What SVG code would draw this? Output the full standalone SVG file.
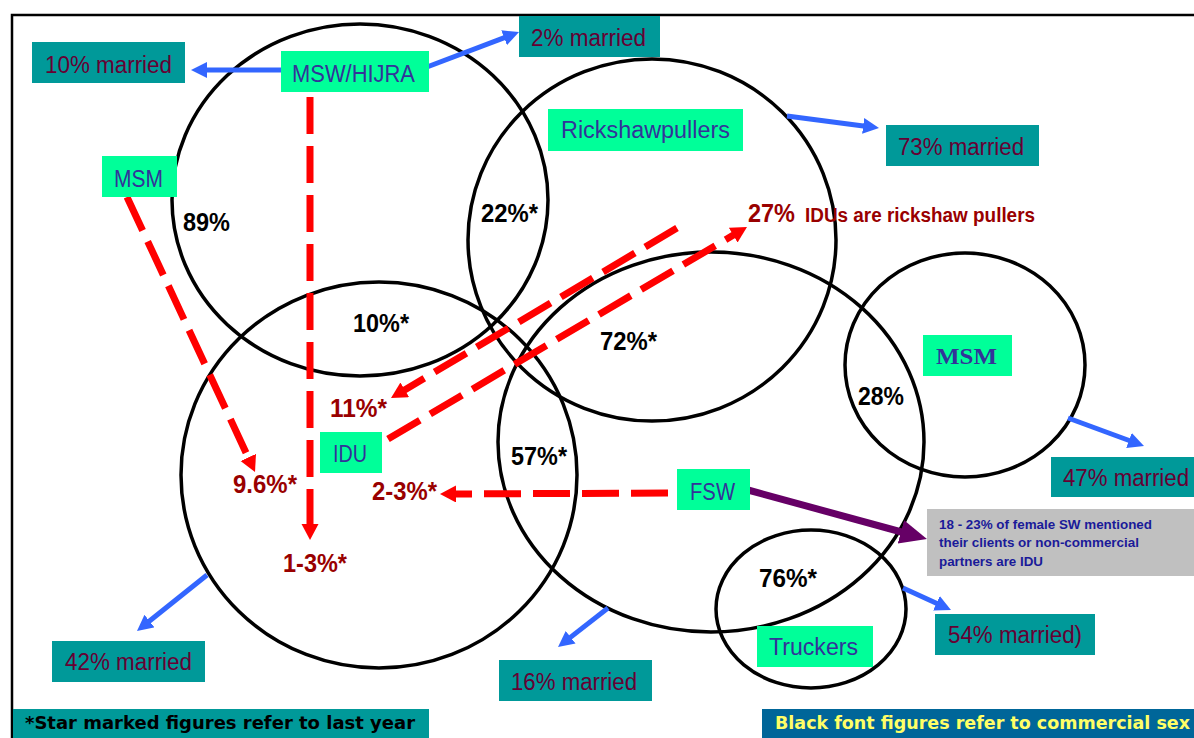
<svg xmlns="http://www.w3.org/2000/svg" width="1194" height="738" viewBox="0 0 1194 738">
<style>
.circ{fill:none;stroke:#000;stroke-width:3.5}
.teal{fill:#009999}
.green{fill:#00FF99}
.mar{font-family:"Liberation Sans",Arial,sans-serif;font-size:23px;fill:#660033}
.lab{font-family:"Liberation Sans",Arial,sans-serif;font-size:23px;fill:#333399}
.pct{font-family:"Liberation Sans",Arial,sans-serif;font-size:25px;font-weight:bold;fill:#000}
.red{font-family:"Liberation Sans",Arial,sans-serif;font-size:25px;font-weight:bold;fill:#990000}
.blue{fill:none;stroke:#3366FF;stroke-width:5}
.rdash{fill:none;stroke:#FF0000;stroke-width:7;stroke-dasharray:37 12}
.grey{font-family:"Liberation Sans",Arial,sans-serif;font-size:13px;font-weight:bold;fill:#1a1a99}
.note{font-family:"DejaVu Sans",sans-serif;font-size:17px;font-weight:bold}
</style>
<defs>
<marker id="ab" markerUnits="userSpaceOnUse" markerWidth="20" markerHeight="20" refX="6" refY="8" orient="auto"><path d="M0,0 L16,8 L0,16 z" fill="#3366FF"/></marker>
<marker id="ar" markerUnits="userSpaceOnUse" markerWidth="20" markerHeight="20" refX="6" refY="8.5" orient="auto"><path d="M0,0 L16,8.5 L0,17 z" fill="#FF0000"/></marker>
<marker id="ap" markerUnits="userSpaceOnUse" markerWidth="30" markerHeight="30" refX="12" refY="12" orient="auto"><path d="M0,0 L27,12 L0,24 z" fill="#660066"/></marker>
</defs>
<rect width="1194" height="738" fill="#fff"/>
<rect x="12" y="15" width="1195" height="735" fill="none" stroke="#000" stroke-width="2.5"/>

<g id="circles">
<ellipse class="circ" cx="360" cy="200" rx="188" ry="176"/>
<ellipse class="circ" cx="652" cy="240" rx="184" ry="181"/>
<ellipse class="circ" cx="379" cy="475" rx="198" ry="193"/>
<ellipse class="circ" cx="711" cy="442" rx="213" ry="190"/>
<ellipse class="circ" cx="965" cy="365" rx="120" ry="112"/>
<ellipse class="circ" cx="811" cy="609" rx="95" ry="79"/>
</g>

<g id="connectors">
<line class="blue" x1="290" y1="70" x2="201" y2="70" marker-end="url(#ab)"/>
<line class="blue" x1="419" y1="70" x2="509.7" y2="35.6" marker-end="url(#ab)"/>
<line class="blue" x1="787" y1="116" x2="869.1" y2="126.7" marker-end="url(#ab)"/>
<line class="blue" x1="1068" y1="418" x2="1134.6" y2="442.5" marker-end="url(#ab)"/>
<line class="blue" x1="903" y1="588" x2="941.9" y2="605.8" marker-end="url(#ab)"/>
<line class="blue" x1="608" y1="608" x2="565.9" y2="640.9" marker-end="url(#ab)"/>
<line class="blue" x1="207" y1="575" x2="144.8" y2="624.8" marker-end="url(#ab)"/>
<line class="rdash" x1="310" y1="97" x2="310" y2="530" marker-end="url(#ar)"/>
<line class="rdash" x1="127" y1="197" x2="250.8" y2="462.9" marker-end="url(#ar)"/>
<line class="rdash" x1="677" y1="228" x2="399.6" y2="392.9" marker-end="url(#ar)"/>
<line class="rdash" x1="388" y1="439" x2="738.4" y2="232.1" marker-end="url(#ar)"/>
<line class="rdash" x1="668" y1="493" x2="450" y2="494" marker-end="url(#ar)"/>
<line x1="748" y1="490" x2="912.5" y2="535" stroke="#660066" stroke-width="7" marker-end="url(#ap)"/>
</g>

<g id="node-msw-hijra"><rect class="green" x="281" y="51" width="148" height="41"/><text class="lab" x="292" y="82" textLength="123" lengthAdjust="spacingAndGlyphs">MSW/HIJRA</text></g>
<g id="node-10-married"><rect class="teal" x="32" y="42" width="153" height="41"/><text class="mar" x="45" y="73" textLength="127" lengthAdjust="spacingAndGlyphs">10% married</text></g>
<g id="node-2-married"><rect class="teal" x="519" y="16" width="141" height="41"/><text class="mar" x="531" y="46" textLength="115" lengthAdjust="spacingAndGlyphs">2% married</text></g>
<g id="node-rickshawpullers"><rect class="green" x="548" y="109" width="195" height="42"/><text class="lab" x="561" y="138" textLength="169" lengthAdjust="spacingAndGlyphs">Rickshawpullers</text></g>
<g id="node-73-married"><rect class="teal" x="886" y="125" width="153" height="41"/><text class="mar" x="898" y="155" textLength="126" lengthAdjust="spacingAndGlyphs">73% married</text></g>
<g id="node-msm-left"><rect class="green" x="102" y="156" width="75" height="41"/><text class="lab" x="114" y="187" textLength="49" lengthAdjust="spacingAndGlyphs">MSM</text></g>
<g id="node-idu"><rect class="green" x="320" y="432" width="62" height="41"/><text class="lab" x="333" y="462" textLength="34" lengthAdjust="spacingAndGlyphs">IDU</text></g>
<g id="node-fsw"><rect class="green" x="677" y="469" width="73" height="41"/><text class="lab" x="690" y="500" textLength="45" lengthAdjust="spacingAndGlyphs">FSW</text></g>
<g id="node-msm-right"><rect class="green" x="923" y="335" width="89" height="41"/><text x="936" y="364" textLength="61" lengthAdjust="spacingAndGlyphs" style="font-family:'Liberation Serif','Times New Roman',serif;font-size:23px;font-weight:bold;fill:#333399">MSM</text></g>
<g id="node-47-married"><rect class="teal" x="1051" y="457" width="150" height="40"/><text class="mar" x="1063" y="486" textLength="126" lengthAdjust="spacingAndGlyphs">47% married</text></g>
<g id="node-truckers"><rect class="green" x="757" y="626" width="116" height="41"/><text class="lab" x="769" y="655" textLength="89" lengthAdjust="spacingAndGlyphs">Truckers</text></g>
<g id="node-54-married"><rect class="teal" x="935" y="614" width="160" height="41"/><text class="mar" x="948" y="643" textLength="134" lengthAdjust="spacingAndGlyphs">54% married)</text></g>
<g id="node-16-married"><rect class="teal" x="499" y="660" width="153" height="41"/><text class="mar" x="511" y="690" textLength="126" lengthAdjust="spacingAndGlyphs">16% married</text></g>
<g id="node-42-married"><rect class="teal" x="52" y="641" width="153" height="41"/><text class="mar" x="65" y="670" textLength="127" lengthAdjust="spacingAndGlyphs">42% married</text></g>
<g id="node-fsw-note"><rect x="927" y="509" width="270" height="67" fill="#C0C0C0"/>
<text class="grey" x="939" y="529" textLength="213" lengthAdjust="spacingAndGlyphs">18 - 23% of female SW mentioned</text>
<text class="grey" x="939" y="547" textLength="200" lengthAdjust="spacingAndGlyphs">their clients or non-commercial</text>
<text class="grey" x="939" y="566" textLength="104" lengthAdjust="spacingAndGlyphs">partners are IDU</text></g>

<g id="figures">
<text class="pct" x="183" y="231" textLength="47" lengthAdjust="spacingAndGlyphs">89%</text>
<text class="pct" x="481" y="222" textLength="57" lengthAdjust="spacingAndGlyphs">22%*</text>
<text class="pct" x="353" y="332" textLength="56" lengthAdjust="spacingAndGlyphs">10%*</text>
<text class="pct" x="600" y="350" textLength="57" lengthAdjust="spacingAndGlyphs">72%*</text>
<text class="pct" x="511" y="465" textLength="56" lengthAdjust="spacingAndGlyphs">57%*</text>
<text class="pct" x="858" y="405" textLength="46" lengthAdjust="spacingAndGlyphs">28%</text>
<text class="pct" x="759" y="587" textLength="58" lengthAdjust="spacingAndGlyphs">76%*</text>
<text class="red" x="330" y="417" textLength="57" lengthAdjust="spacingAndGlyphs">11%*</text>
<text class="red" x="233" y="493" textLength="64" lengthAdjust="spacingAndGlyphs">9.6%*</text>
<text class="red" x="283" y="572" textLength="64" lengthAdjust="spacingAndGlyphs">1-3%*</text>
<text class="red" x="372" y="500" textLength="65" lengthAdjust="spacingAndGlyphs">2-3%*</text>
<text class="red" x="748" y="222" textLength="47" lengthAdjust="spacingAndGlyphs">27%</text>
<text class="red" x="805" y="222" textLength="230" lengthAdjust="spacingAndGlyphs" style="font-size:20px">IDUs are rickshaw pullers</text>
</g>

<g id="legend-star"><rect class="teal" x="13" y="709" width="416" height="35"/><text class="note" x="25" y="729" textLength="390" lengthAdjust="spacingAndGlyphs" fill="#000">*Star marked figures refer to last year</text></g>
<g id="legend-black"><rect x="762" y="709" width="440" height="35" fill="#006699"/><text class="note" x="775" y="729" textLength="415" lengthAdjust="spacingAndGlyphs" fill="#FFFF66">Black font figures refer to commercial sex</text></g>
</svg>
